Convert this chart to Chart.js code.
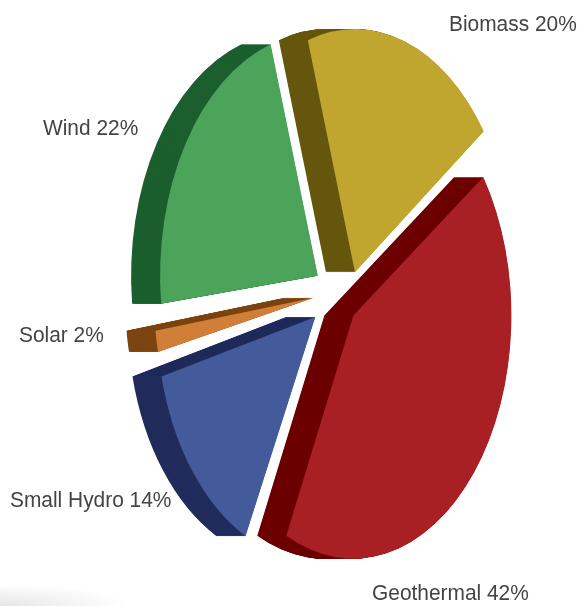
<!DOCTYPE html>
<html>
<head>
<meta charset="utf-8">
<style>
  html, body { margin: 0; padding: 0; background: #fff; }
  #wrap {
    width: 577px; height: 606px; position: relative;
    background: radial-gradient(ellipse 130px 22px at 0 100%, #e6e6e6, rgba(255,255,255,0));
  }
  canvas { filter: blur(0.5px); }
</style>
</head>
<body>
<div id="wrap"><canvas id="myChart"></canvas></div>
<script src="https://cdn.jsdelivr.net/npm/chart.js@4/dist/chart.umd.min.js"></script>
<script>
const categories = ['Geothermal', 'Small Hydro', 'Solar', 'Wind', 'Biomass'];
const shares = [42, 14, 2, 22, 20];
const faceColors = ['#a92024', '#435b9a', '#d17f38', '#4ca45b', '#c0a62e'];
const sideColors = ['#6c0000', '#202c5c', '#7d4511', '#1c5f2e', '#66570e'];
// arc draws offset / 4, so these are four times the gap in pixels
const explode = [140, 140, 132, 148, 96];
// the hand drawn slices do not share one radius or one centre
const radiusTrim = [17, 6, 25, 0, 0];
const shiftX = [1, -2, 0, 3, 15];
const shiftY = [-2, 0, -3, 1, 0];

// the source picture is a squashed pie with a sideways extrusion
const centerX = 335, centerY = 295, squash = 0.65, depth = 29;

// text anchors, left edge and baseline
const labelSpots = [[372, 600], [10, 507], [19, 342], [43, 135], [449, 31]];

const squashPie = {
  id: 'squashPie',
  beforeDatasetsDraw(chart) {
    const ctx = chart.ctx;
    const meta = chart.getDatasetMeta(0);
    const midX = (chart.chartArea.left + chart.chartArea.right) / 2;
    const midY = (chart.chartArea.top + chart.chartArea.bottom) / 2;
    meta.data.forEach((arc, i) => {
      arc.outerRadius = meta.controller.outerRadius - radiusTrim[i];
      arc.x = midX + shiftX[i] / squash;
      arc.y = midY + shiftY[i];
    });
    ctx.save();
    ctx.translate(centerX, centerY);
    ctx.scale(squash, 1);
    ctx.translate(-midX, -midY);
    meta.data.forEach((arc, i) => {
      const side = Object.create(arc);
      side.options = Object.create(arc.options, { backgroundColor: { value: sideColors[i] } });
      for (let k = depth / squash; k > 0; k -= 1) {
        ctx.save();
        ctx.translate(-k, 0);
        side.draw(ctx);
        ctx.restore();
      }
    });
  },
  afterDatasetsDraw(chart) {
    chart.ctx.restore();
  },
  afterDraw(chart) {
    const ctx = chart.ctx;
    ctx.save();
    ctx.font = '22px "Liberation Sans", sans-serif';
    ctx.fillStyle = '#444';
    ctx.textBaseline = 'alphabetic';
    categories.forEach((name, i) => {
      ctx.save();
      ctx.translate(labelSpots[i][0], labelSpots[i][1]);
      ctx.scale(0.95, 1);
      ctx.fillText(name + ' ' + shares[i] + '%', 0, 0);
      ctx.restore();
    });
    ctx.restore();
  },
};

new Chart(document.getElementById('myChart'), {
  type: 'pie',
  plugins: [squashPie],
  data: {
    labels: categories,
    datasets: [
      {
        data: shares,
        backgroundColor: faceColors,
        hoverBackgroundColor: faceColors,
        borderWidth: 0,
        offset: explode,
        clip: false,
      },
    ],
  },
  options: {
    responsive: true,
    maintainAspectRatio: false,
    animation: false,
    rotation: 54.6,
    radius: 242,
    events: [],
    layout: { padding: 0 },
    plugins: { legend: { display: false }, tooltip: { enabled: false } },
  },
});
</script>
</body>
</html>
